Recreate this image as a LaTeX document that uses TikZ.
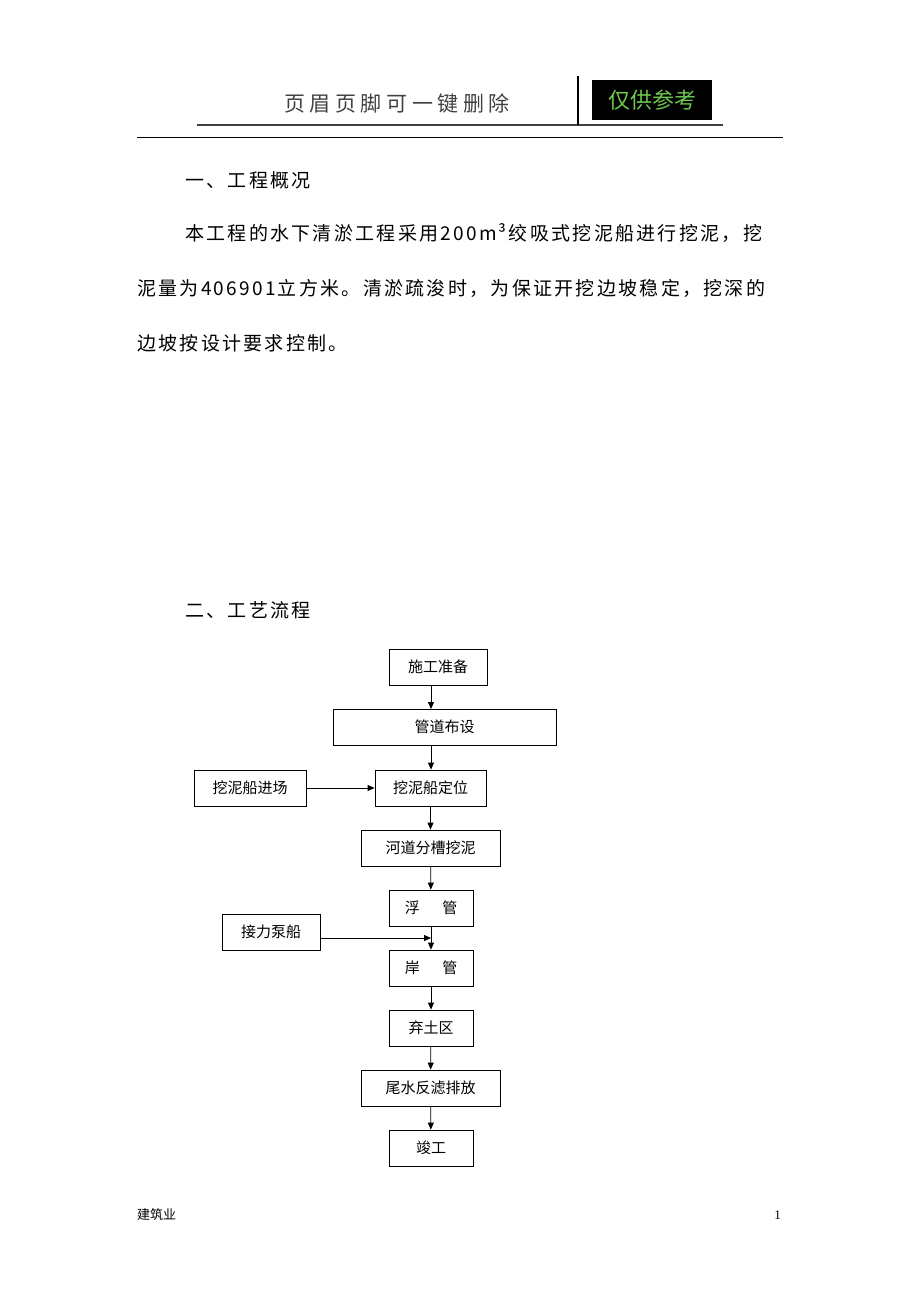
\documentclass[tikz,border=0pt]{standalone}
\usepackage{fontspec}
\setmainfont{Liberation Serif}
\newfontfamily\cjk{Noto Sans CJK SC}
\newfontfamily\cjkbody[LetterSpace=12]{Noto Sans CJK SC}
\newfontfamily\cjkhead[LetterSpace=22]{Noto Sans CJK SC}
\usetikzlibrary{arrows.meta}
\begin{document}
\begin{tikzpicture}[x=1pt,y=-1pt,
  box/.style={draw,line width=0.8pt,inner sep=0pt,font=\cjk\fontsize{15}{15}\selectfont},
  arr/.style={-{Triangle[length=7pt,width=6pt]},line width=0.8pt},
  body/.style={anchor=west,inner sep=0pt,font=\cjkbody\fontsize{19}{19}\selectfont}]
\useasboundingbox (0,0) rectangle (920,1302);
% header
\node[anchor=center,text=black!75,font=\cjkhead\fontsize{21}{21}\selectfont] (hd) at (397,103) {页眉页脚可一键删除};
\draw[line width=2pt,black!75] (197,125) -- (723,125);
\draw[line width=1.5pt] (578,76) -- (578,125);
\node[fill=black,minimum width=120pt,minimum height=40pt,inner sep=0pt,text={rgb,255:red,110;green,200;blue,80},font=\cjk\fontsize{22}{22}\selectfont] (tag) at (652,100) {仅供参考};
\draw[line width=1pt] (137,137) -- (783,137);
% text
\node[body] (t1) at (185,180) {一、工程概况};
\node[body] (p1) at (185,233) {本工程的水下清淤工程采用200m³绞吸式挖泥船进行挖泥，挖};
\node[body] (p2) at (137,288) {泥量为406901立方米。清淤疏浚时，为保证开挖边坡稳定，挖深的};
\node[body] (p3) at (137,343) {边坡按设计要求控制。};
\node[body] (t2) at (185,610) {二、工艺流程};
% flowchart
\node[box,minimum width=98pt,minimum height=36pt] (a) at (438,667) {施工准备};
\node[box,minimum width=223pt,minimum height=36pt] (b) at (444.5,727) {管道布设};
\node[box,minimum width=112pt,minimum height=36pt] (c0) at (250,788) {挖泥船进场};
\node[box,minimum width=111pt,minimum height=36pt] (c) at (430.5,788) {挖泥船定位};
\node[box,minimum width=139pt,minimum height=36pt] (d) at (430.5,848) {河道分槽挖泥};
\node[box,minimum width=84pt,minimum height=36pt] (e) at (431,908) {浮\hspace{1.5em}管};
\node[box,minimum width=98pt,minimum height=36pt] (e0) at (271,932) {接力泵船};
\node[box,minimum width=84pt,minimum height=36pt] (f) at (431,968) {岸\hspace{1.5em}管};
\node[box,minimum width=84pt,minimum height=36pt] (g) at (431,1028) {弃土区};
\node[box,minimum width=139pt,minimum height=36pt] (h) at (430.5,1088) {尾水反滤排放};
\node[box,minimum width=84pt,minimum height=36pt] (i) at (431,1148) {竣工};
\coordinate (m) at (431,938);
\draw[arr] (431,685) -- (431,709);
\draw[arr] (431,745) -- (c.north -| 431,0);
\draw[arr] (c0) -- (c);
\draw[arr] (c) -- (d);
\draw[arr] (d) -- (e);
\draw[arr] (e) -- (f);
\draw[arr] (e0.east |- m) -- (m);
\draw[arr] (f) -- (g);
\draw[arr] (g) -- (h);
\draw[arr] (h) -- (i);
% footer
\node[anchor=west,inner sep=0pt,font=\cjk\fontsize{13}{13}\selectfont] (ft) at (137,1215) {建筑业};
\node[anchor=east,inner sep=0pt,font=\fontsize{13}{13}\selectfont] (pg) at (781,1215) {1};
\end{tikzpicture}
\end{document}
